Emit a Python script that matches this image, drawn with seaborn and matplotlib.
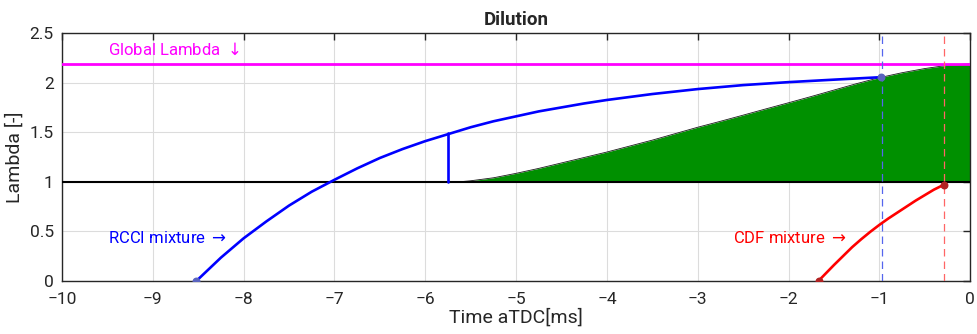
import numpy as np
import pandas as pd
import matplotlib
matplotlib.use('Agg')
import matplotlib.pyplot as plt
import seaborn as sns

sns.set_theme(style="white")
plt.rcParams['font.family'] = ['Roboto', 'DejaVu Sans']

# --- data ---
rcci_time = [-8.52, -8.25, -8.0, -7.75, -7.5, -7.25, -7.0, -6.75, -6.5, -6.25,
             -6.0, -5.75, -5.5, -5.25, -5.0, -4.75, -4.5, -4.25, -4.0, -3.5,
             -3.0, -2.5, -2.0, -1.5, -0.98]
rcci_lambda = [0.0, 0.235, 0.43, 0.60, 0.76, 0.90, 1.02, 1.135, 1.24, 1.33,
               1.41, 1.48, 1.55, 1.61, 1.66, 1.71, 1.75, 1.79, 1.825, 1.885,
               1.935, 1.975, 2.005, 2.03, 2.055]

split_time = [-5.75, -5.75]
split_lambda = [1.0, 1.49]

dil_time = [-5.62, -5.5, -5.25, -5.0, -4.75, -4.5, -4.25, -4.0, -3.75, -3.5,
            -3.25, -3.0, -2.75, -2.5, -2.25, -2.0, -1.75, -1.5, -1.25, -1.0,
            -0.75, -0.5, -0.25, 0.0]
dil_lambda = [1.0, 1.01, 1.04, 1.085, 1.135, 1.19, 1.245, 1.30, 1.36, 1.42,
              1.485, 1.55, 1.61, 1.672, 1.735, 1.797, 1.86, 1.925, 1.99, 2.05,
              2.10, 2.142, 2.175, 2.19]

cdf_time = [-1.67, -1.5, -1.4, -1.3, -1.2, -1.1, -1.0, -0.9, -0.8, -0.7,
            -0.6, -0.5, -0.4, -0.29]
cdf_lambda = [0.0, 0.16, 0.25, 0.34, 0.42, 0.495, 0.565, 0.63, 0.69, 0.75,
              0.81, 0.865, 0.92, 0.97]

global_lambda = 2.19
stoich_lambda = 1.0
rcci_end_time = -0.97
cdf_end_time = -0.29

rcci = pd.DataFrame({'t': rcci_time, 'lam': rcci_lambda})
cdf = pd.DataFrame({'t': cdf_time, 'lam': cdf_lambda})
dil = pd.DataFrame({'t': dil_time, 'lam': dil_lambda})

fig = plt.figure(figsize=(9.77, 3.34), dpi=100)
ax = fig.add_axes([0.0635, 0.159, 0.9295, 0.742])

# green dilution region
ax.fill_between(dil['t'], stoich_lambda, dil['lam'], color='#009000', lw=0, zorder=1)
sns.lineplot(data=dil, x='t', y='lam', color='#1a1a1a', linewidth=0.6,
             estimator=None, sort=False, ax=ax, zorder=2)

ax.axhline(stoich_lambda, color='black', linewidth=1.5, zorder=3)
ax.axhline(global_lambda, color='#ff00ff', linewidth=2, zorder=3)

sns.lineplot(data=rcci, x='t', y='lam', color='#0000ff', linewidth=1.9,
             estimator=None, sort=False, ax=ax, zorder=4)
sns.lineplot(x=split_time, y=split_lambda, color='#0000ff', linewidth=1.9,
             estimator=None, sort=False, ax=ax, zorder=4)
sns.lineplot(data=cdf, x='t', y='lam', color='#ff0000', linewidth=1.9,
             estimator=None, sort=False, ax=ax, zorder=4)

ax.axvline(rcci_end_time, color='#5566ee', linestyle=(0, (6, 4)), linewidth=0.9, zorder=3)
ax.axvline(cdf_end_time, color='#ff6666', linestyle=(0, (6, 4)), linewidth=0.9, zorder=3)

# end points
ax.scatter([rcci_time[0], rcci_time[-1]], [rcci_lambda[0], rcci_lambda[-1]],
           s=22, color='#5a64c0', zorder=5)
ax.scatter([cdf_time[0], cdf_time[-1]], [cdf_lambda[0], cdf_lambda[-1]],
           s=22, color='#b22222', zorder=5)

ax.text(-9.49, 2.33, 'Global Lambda $\\downarrow$', color='#ff00ff', fontsize=12,
        va='center')
ax.text(-9.49, 0.43, 'RCCI mixture $\\rightarrow$', color='#0000ff', fontsize=12,
        va='center')
ax.text(-2.61, 0.43, 'CDF mixture $\\rightarrow$', color='#ff0000', fontsize=12,
        va='center')

ax.set_xlim(-10, 0)
ax.set_ylim(0, 2.5)
ax.set_xticks(np.arange(-10, 1, 1))
ax.set_yticks(np.arange(0, 2.51, 0.5))
ax.set_yticklabels(['0', '0.5', '1', '1.5', '2', '2.5'])
ax.grid(True, color='#dcdcdc', linewidth=0.8)
ax.set_axisbelow(True)
ax.tick_params(direction='in', top=True, right=True, length=5, width=1,
               labelsize=12.5, colors='#262626')
ax.tick_params(axis='x', pad=8)
ax.tick_params(axis='y', pad=6)
for s in ax.spines.values():
    s.set_color('#262626')
    s.set_linewidth(1)

ax.set_title('Dilution', fontsize=13.5, fontweight='bold', pad=6)
ax.set_xlabel('Time aTDC[ms]', fontsize=14, color='#262626', labelpad=1)
ax.set_ylabel('Lambda [-]', fontsize=14, color='#262626', labelpad=4)

fig.savefig('out.png', dpi=100)
